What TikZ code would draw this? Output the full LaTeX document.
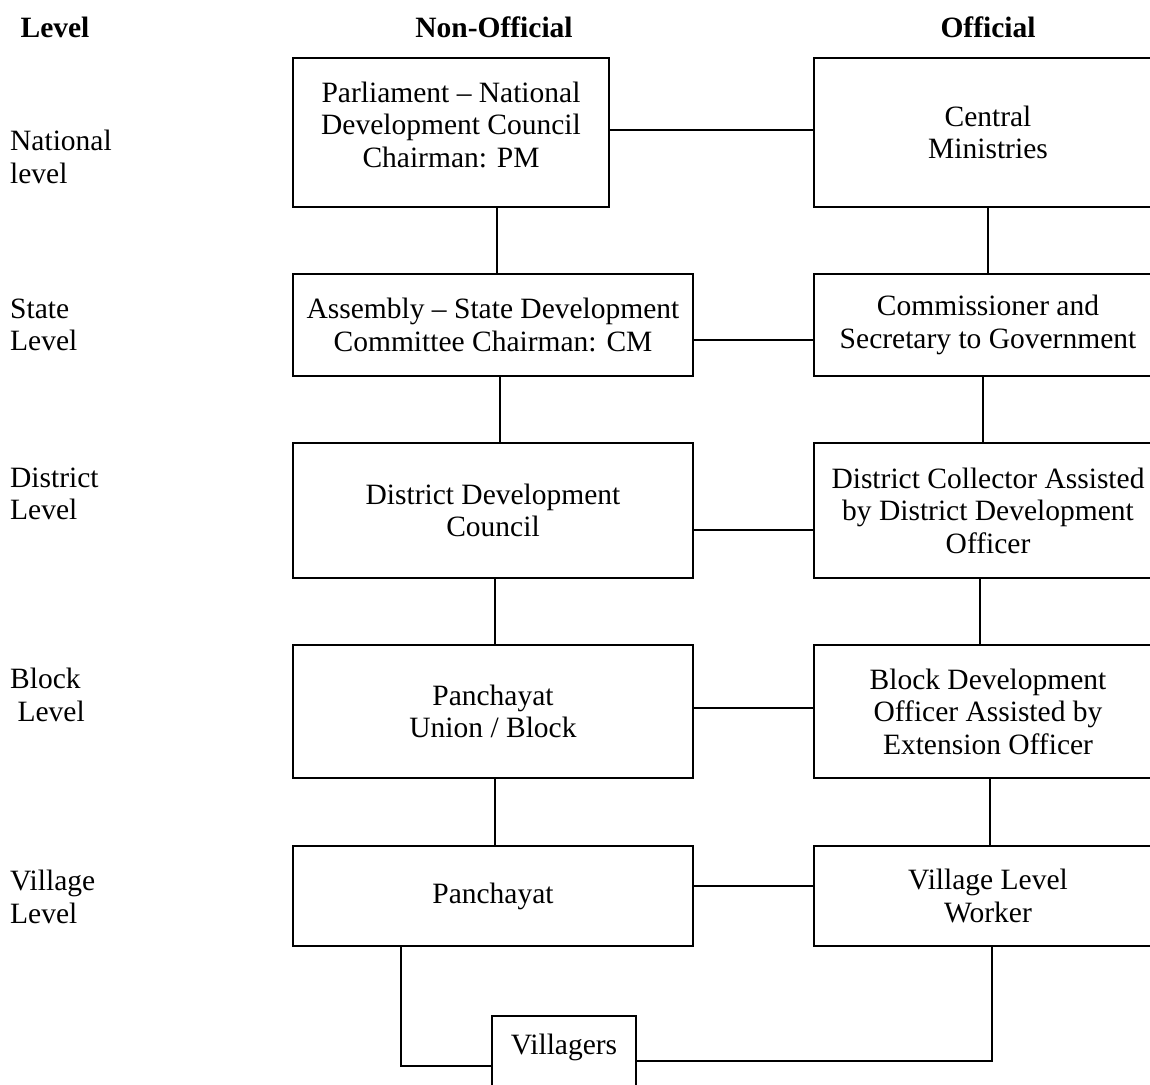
\documentclass[tikz,border=0pt]{standalone}
\usepackage{fontspec}
\setmainfont{Liberation Serif}
\begin{document}
\begin{tikzpicture}[x=1pt,y=-1pt,
  txt/.style={font=\fontsize{29.5}{32.5}\selectfont, align=center, inner sep=0pt},
  box/.style={txt, draw, line width=2pt},
  lbl/.style={font=\fontsize{29.5}{32.5}\selectfont, align=left, anchor=west, inner sep=0pt},
  hdr/.style={font=\fontsize{29.5}{32.5}\selectfont\bfseries, inner sep=0pt},
  conn/.style={line width=2pt}]
\useasboundingbox (0,0) rectangle (1150,1084);
\clip (0,0) rectangle (1150,1084);
% headers
\node[hdr] (hl) at (55,27) {Level};
\node[hdr] (hn) at (494,27) {Non-Official};
\node[hdr] (ho) at (988,27) {Official};
% level labels
\node[lbl] (l1) at (10,157) {National\\level};
\node[lbl] (l2) at (10,325) {State\\Level};
\node[lbl] (l3) at (10,494) {District\\Level};
\node[lbl] (l4) at (10,695) {Block\\\ Level};
\node[lbl] (l5) at (10,897) {Village\\Level};
% non-official boxes
\node[box, minimum width=316, minimum height=149] (b1) at (451,132.5) {Parliament -- National\\Development Council\\Chairman: PM\\[-26pt]\strut};
\node[box, minimum width=400, minimum height=102] (b2) at (493,325) {Assembly -- State Development\\Committee Chairman: CM};
\node[box, minimum width=400, minimum height=135] (b3) at (493,510.5) {District Development\\Council};
\node[box, minimum width=400, minimum height=133] (b4) at (493,711.5) {Panchayat\\Union / Block};
\node[box, minimum width=400, minimum height=100] (b5) at (493,896) {Panchayat};
% official boxes
\node[box, minimum width=348, minimum height=149] (c1) at (988,132.5) {Central\\Ministries};
\node[box, minimum width=348, minimum height=102] (c2) at (988,325) {Commissioner and\\Secretary to Government};
\node[box, minimum width=348, minimum height=135] (c3) at (988,510.5) {District Collector Assisted\\by District Development\\Officer};
\node[box, minimum width=348, minimum height=133] (c4) at (988,711.5) {Block Development\\Officer Assisted by\\Extension Officer};
\node[box, minimum width=348, minimum height=100] (c5) at (988,896) {Village Level\\Worker};
% villagers
\node[txt, minimum width=144, minimum height=62] (vil) at (564,1047) {Villagers};
\draw[conn] ([yshift=-60pt]vil.south west) -- (vil.north west) -- (vil.north east) -- ([yshift=-60pt]vil.south east);
% horizontal connectors
\draw[conn] ([yshift=2.5pt]b1.east) -- ([yshift=2.5pt]c1.west);
\draw[conn] ([yshift=-15pt]b2.east) -- ([yshift=-15pt]c2.west);
\draw[conn] ([yshift=-19.5pt]b3.east) -- ([yshift=-19.5pt]c3.west);
\draw[conn] ([yshift=3.5pt]b4.east) -- ([yshift=3.5pt]c4.west);
\draw[conn] ([yshift=10pt]b5.east) -- ([yshift=10pt]c5.west);
% vertical connectors, non-official
\draw[conn] ([xshift=46pt]b1.south) -- ([xshift=4pt]b2.north);
\draw[conn] ([xshift=7pt]b2.south) -- ([xshift=7pt]b3.north);
\draw[conn] ([xshift=2pt]b3.south) -- ([xshift=2pt]b4.north);
\draw[conn] ([xshift=2pt]b4.south) -- ([xshift=2pt]b5.north);
% vertical connectors, official
\draw[conn] (c1.south) -- (c2.north);
\draw[conn] ([xshift=-5pt]c2.south) -- ([xshift=-5pt]c3.north);
\draw[conn] ([xshift=-8pt]c3.south) -- ([xshift=-8pt]c4.north);
\draw[conn] ([xshift=2pt]c4.south) -- ([xshift=2pt]c5.north);
% to villagers
\draw[conn] ([xshift=-92pt]b5.south) |- ([yshift=-19pt]vil.west);
\draw[conn] ([xshift=4pt]c5.south) |- ([yshift=-14pt]vil.east);
\end{tikzpicture}
\end{document}
